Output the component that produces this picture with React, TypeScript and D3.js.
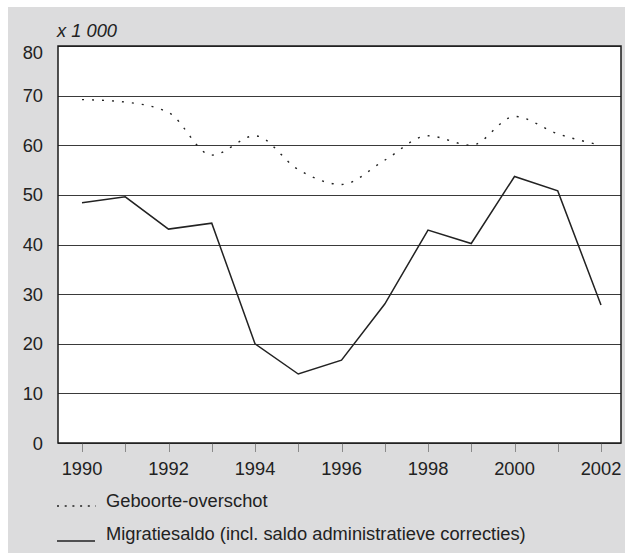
import React from "react";
import * as d3 from "d3";

const years = [1990, 1991, 1992, 1993, 1994, 1995, 1996, 1997, 1998, 1999, 2000, 2001, 2002];
const geboorteOverschot = [69.2, 68.7, 66.6, 58.0, 61.9, 55.1, 52.1, 57.0, 61.9, 60.0, 65.8, 62.3, 60.0];
const migratiesaldo = [48.4, 49.6, 43.1, 44.3, 20.0, 13.9, 16.7, 28.0, 42.9, 40.2, 53.7, 50.8, 27.8];
const yTicks = [0, 10, 20, 30, 40, 50, 60, 70, 80];
const xLabelYears = [1990, 1992, 1994, 1996, 1998, 2000, 2002];
const unitLabel = "x 1 000";
const legendLabels = ["Geboorte-overschot", "Migratiesaldo (incl. saldo administratieve correcties)"];

const W = 626;
const H = 553;
const plot = { left: 58, right: 621, top: 46, bottom: 443 };
const FONT = "'Liberation Sans', Arial, Helvetica, sans-serif";
const FS = 18.3;

export default function App() {
  const x = d3.scaleLinear().domain([1990, 2002]).range([82, 601]);
  const y = d3.scaleLinear().domain([0, 80]).range([plot.bottom, plot.top]);

  const lineDotted = d3
    .line<number>()
    .x((_, i) => x(years[i]))
    .y((d) => y(d))
    .curve(d3.curveMonotoneX);
  const lineSolid = d3
    .line<number>()
    .x((_, i) => x(years[i]))
    .y((d) => y(d));

  return (
    <svg
      width={W}
      height={H}
      style={{ position: "absolute", left: 0, top: 0, display: "block" }}
      fontFamily={FONT}
    >
      <rect x={0} y={0} width={W} height={H} fill="#ffffff" />
      <rect x={8} y={7} width={617} height={H - 7} fill="#dcdcdd" />
      <rect
        x={plot.left}
        y={plot.top}
        width={plot.right - plot.left}
        height={plot.bottom - plot.top}
        fill="#ffffff"
      />
      {/* gridlines */}
      {yTicks.map((t) => (
        <line
          key={"g" + t}
          x1={plot.left}
          x2={plot.right}
          y1={Math.round(y(t)) + 0.5}
          y2={Math.round(y(t)) + 0.5}
          stroke="#3a3a3a"
          strokeWidth={1}
        />
      ))}
      {/* y labels */}
      {yTicks.map((t) => (
        <text
          key={"yl" + t}
          x={43}
          y={y(t) + (t === 80 ? 6 : 0)}
          dy="0.36em"
          textAnchor="end"
          fontSize={FS}
          fill="#222"
        >
          {t}
        </text>
      ))}
      <text x={57} y={37} fontSize={FS} fontStyle="italic" fill="#222">
        {unitLabel}
      </text>
      {/* x ticks */}
      {years.map((yr) => (
        <line
          key={"xt" + yr}
          x1={Math.round(x(yr)) + 0.5}
          x2={Math.round(x(yr)) + 0.5}
          y1={plot.bottom}
          y2={plot.bottom + 9}
          stroke="#8a8a8a"
          strokeWidth={1}
        />
      ))}
      {xLabelYears.map((yr) => (
        <text key={"xl" + yr} x={x(yr)} y={475} textAnchor="middle" fontSize={FS} fill="#222">
          {yr}
        </text>
      ))}
      {/* frame */}
      <rect
        x={plot.left}
        y={plot.top}
        width={plot.right - plot.left}
        height={plot.bottom - plot.top}
        fill="none"
        stroke="#1a1a1a"
        strokeWidth={1.5}
      />
      {/* series */}
      <path
        d={lineDotted(geboorteOverschot) || ""}
        fill="none"
        stroke="#222"
        strokeWidth={1.4}
        strokeDasharray="2 8"
      />
      <path d={lineSolid(migratiesaldo) || ""} fill="none" stroke="#222" strokeWidth={1.5} />
      {/* legend */}
      <line x1={57} x2={96} y1={506} y2={506} stroke="#222" strokeWidth={1.4} strokeDasharray="2 5.7" />
      <text x={106} y={507} fontSize={FS} fill="#222">
        {legendLabels[0]}
      </text>
      <line x1={57} x2={95} y1={541} y2={541} stroke="#222" strokeWidth={1.5} />
      <text x={106} y={540} fontSize={FS} fill="#222">
        {legendLabels[1]}
      </text>
    </svg>
  );
}
